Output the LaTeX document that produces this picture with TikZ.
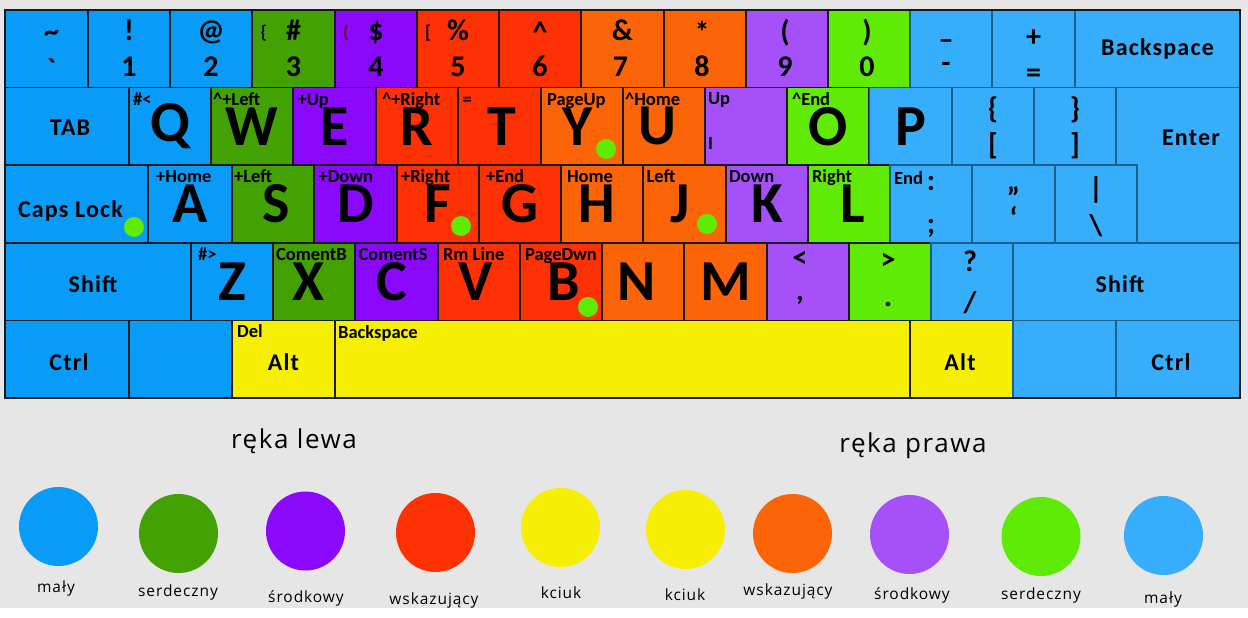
\documentclass[tikz,border=0pt]{standalone}
\usepackage{fontspec}
\setmainfont{Carlito}
\newfontfamily\legendfam{Open Sans}[LetterSpace=6]
\definecolor{paper}{HTML}{E6E6E6}
\definecolor{lpinky}{HTML}{089CF8}
\definecolor{lring}{HTML}{44A104}
\definecolor{lmiddle}{HTML}{8A08FB}
\definecolor{lindex}{HTML}{FE3104}
\definecolor{thumb}{HTML}{F6EF03}
\definecolor{rindex}{HTML}{FB6508}
\definecolor{rmiddle}{HTML}{A550F8}
\definecolor{rring}{HTML}{5FEB06}
\definecolor{rpinky}{HTML}{36AEFB}
\definecolor{keyline}{HTML}{1A1A1A}
\definecolor{rblueline}{HTML}{1F5F8B}
\definecolor{hintred}{HTML}{7A0A14}
\newcommand{\kbletter}{\fontsize{58}{58}\selectfont\bfseries}
\newcommand{\kbsym}{\fontsize{30}{30}\selectfont\bfseries}
\newcommand{\kbhint}{\fontsize{18.5}{18.5}\selectfont\bfseries}
\newcommand{\kbmod}{\fontsize{24}{24}\selectfont\bfseries\addfontfeature{LetterSpace=5}}
\newcommand{\kbnudge}[2]{\hspace*{#1}#2}

\begin{document}
\begin{tikzpicture}[x=1pt,y=-1pt,
  key/.style={draw=keyline,line width=1.5pt,minimum height=77.6pt,minimum width=82.3pt,
    inner sep=0pt,outer sep=0pt,font=\kbletter},
  lpk/.style={key,fill=lpinky},
  lrg/.style={key,fill=lring},
  lmd/.style={key,fill=lmiddle},
  lix/.style={key,fill=lindex},
  thb/.style={key,fill=thumb},
  rix/.style={key,fill=rindex},
  rmd/.style={key,fill=rmiddle},
  rrg/.style={key,fill=rring},
  rpk/.style={key,fill=rpinky,draw=rblueline},
  sym/.style={anchor=base,inner sep=0pt,font=\kbsym},
  hint/.style={anchor=base west,inner sep=0pt,font=\kbhint},
  modl/.style={inner sep=0pt,font=\kbmod},
  hotdot/.style={circle,fill=rring,minimum size=20pt,inner sep=0pt},
  finger/.style={circle,minimum size=79pt,inner sep=0pt},
  fname/.style={inner sep=0pt,font=\legendfam\fontsize{15.5}{15.5}\selectfont},
  hand/.style={inner sep=0pt,font=\legendfam\fontsize{26}{26}\selectfont}
]
  \useasboundingbox (0,0) rectangle (1248,618);
  \fill[paper] (0,0) rectangle (1248,608);
  \fill[white] (0,608) rectangle (1248,618);

  % Number row
  \node[lpk,minimum width=83pt] (ktilde) at (46.5,48.8) {};
  \node[lpk] (k1) at (129,48.8) {};
  \node[lpk] (k2) at (211,48.8) {};
  \node[lrg] (k3) at (293.5,48.8) {};
  \node[lmd] (k4) at (376,48.8) {};
  \node[lix] (k5) at (458,48.8) {};
  \node[lix] (k6) at (540,48.8) {};
  \node[rix] (k7) at (622.5,48.8) {};
  \node[rix] (k8) at (705,48.8) {};
  \node[rmd] (k9) at (787,48.8) {};
  \node[rrg] (k0) at (869,48.8) {};
  \node[rpk] (kminus) at (951,48.8) {};
  \node[rpk] (kplus) at (1033.5,48.8) {};
  \node[rpk,minimum width=165pt] (kbksp) at (1157.5,48.8) {};

  \node[sym] (ktilde-t) at ([xshift=5pt,yshift=-32pt]ktilde.north) {\textasciitilde};
  \node[sym] (ktilde-b) at ([xshift=5pt,yshift=-70pt]ktilde.north) {\textasciigrave};
  \node[sym] (k1-t) at ([yshift=-31pt]k1.north) {!};
  \node[sym] (k1-b) at ([yshift=-67pt]k1.north) {1};
  \node[sym] (k2-t) at ([yshift=-31pt]k2.north) {@};
  \node[sym] (k2-b) at ([yshift=-67pt]k2.north) {2};
  \node[sym] (k3-t) at ([yshift=-31pt]k3.north) {\#};
  \node[sym] (k3-b) at ([yshift=-67pt]k3.north) {3};
  \node[sym] (k4-t) at ([yshift=-31pt]k4.north) {\$};
  \node[sym] (k4-b) at ([yshift=-67pt]k4.north) {4};
  \node[sym] (k5-t) at ([yshift=-31pt]k5.north) {\%};
  \node[sym] (k5-b) at ([yshift=-67pt]k5.north) {5};
  \node[sym] (k6-t) at ([yshift=-33pt]k6.north) {\textasciicircum};
  \node[sym] (k6-b) at ([yshift=-67pt]k6.north) {6};
  \node[sym] (k7-t) at ([yshift=-31pt]k7.north) {\&};
  \node[sym] (k7-b) at ([xshift=-2pt,yshift=-67pt]k7.north) {7};
  \node[sym] (k8-t) at ([xshift=-3pt,yshift=-33pt]k8.north) {*};
  \node[sym] (k8-b) at ([xshift=-3pt,yshift=-67pt]k8.north) {8};
  \node[sym] (k9-t) at ([xshift=-2pt,yshift=-32pt]k9.north) {(};
  \node[sym] (k9-b) at ([xshift=-2pt,yshift=-67pt]k9.north) {9};
  \node[sym] (k0-t) at ([xshift=-2pt,yshift=-32pt]k0.north) {)};
  \node[sym] (k0-b) at ([xshift=-2pt,yshift=-67pt]k0.north) {0};
  \node[sym] (kminus-t) at ([xshift=-5pt,yshift=-40pt]kminus.north) {–};
  \node[sym] (kminus-b) at ([xshift=-5pt,yshift=-63pt]kminus.north) {-};
  \node[sym] (kplus-t) at ([yshift=-37pt]kplus.north) {+};
  \node[sym] (kplus-b) at ([yshift=-72pt]kplus.north) {=};
  \node[modl] (tbksp) at (kbksp.center) {Backspace};
  \node[hint] (k3-h) at ([xshift=8pt,yshift=-29pt]k3.north west) {\{};
  \node[hint,hintred] (k4-h) at ([xshift=8pt,yshift=-29pt]k4.north west) {(};
  \node[hint] (k5-h) at ([xshift=8pt,yshift=-29pt]k5.north west) {[};

  % Top letter row
  \node[lpk,minimum width=124pt] (ktab) at (67,126.4) {};
  \node[lpk] (kq) at (170,126.4) {Q};
  \node[lrg] (kw) at (252,126.4) {W};
  \node[lmd] (ke) at (334.5,126.4) {E};
  \node[lix] (kr) at (417,126.4) {R};
  \node[lix] (kt) at (499.5,126.4) {\kbnudge{4pt}{T}};
  \node[rix] (ky) at (582,126.4) {\kbnudge{-8pt}{Y}};
  \node[rix] (ku) at (664,126.4) {\kbnudge{-14pt}{U}};
  \node[rmd] (ki) at (746,126.4) {};
  \node[rrg] (ko) at (828,126.4) {O};
  \node[rpk] (kp) at (910.5,126.4) {P};
  \node[rpk] (klbr) at (993,126.4) {};
  \node[rpk] (krbr) at (1075,126.4) {};
  \filldraw[fill=rpinky,draw=rblueline,line width=1.5pt] (1116,87.6) -- (1240,87.6)
    -- (1240,242.8) -- (1137,242.8) -- (1137,165.2) -- (1116,165.2) -- cycle;

  \node[modl] (ttab) at ([xshift=3pt,yshift=-1.6pt]ktab.center) {TAB};
  \node[hint] (kq-h) at ([xshift=4pt,yshift=-18pt]kq.north west) {\#<};
  \node[hint] (kw-h) at ([xshift=2pt,yshift=-18pt]kw.north west) {\textasciicircum+Left};
  \node[hint] (ke-h) at ([xshift=4pt,yshift=-18pt]ke.north west) {+Up};
  \node[hint] (kr-h) at ([xshift=6pt,yshift=-18pt]kr.north west) {\textasciicircum+Right};
  \node[hint] (kt-h) at ([xshift=4pt,yshift=-18pt]kt.north west) {=};
  \node[hint] (ky-h) at ([xshift=6pt,yshift=-18pt]ky.north west) {PageUp};
  \node[hint] (ku-h) at ([xshift=2pt,yshift=-18pt]ku.north west) {\textasciicircum Home};
  \node[hint] (ki-h) at ([xshift=3pt,yshift=-17pt]ki.north west) {Up};
  \node[hint] (ki-l) at ([xshift=3pt,yshift=-62pt]ki.north west) {I};
  \node[hint] (ko-h) at ([xshift=5pt,yshift=-18pt]ko.north west) {\textasciicircum End};
  \node[sym] (klbr-t) at ([yshift=-31pt]klbr.north) {\{};
  \node[sym] (klbr-b) at ([yshift=-67pt]klbr.north) {[};
  \node[sym] (krbr-t) at ([yshift=-31pt]krbr.north) {\}};
  \node[sym] (krbr-b) at ([yshift=-67pt]krbr.north) {]};
  \node[modl] (tenter) at (1191,138) {Enter};

  % Home row
  \node[lpk,minimum width=143pt] (kcaps) at (76.5,204) {};
  \node[lpk,minimum width=84pt] (ka) at (190,204) {A};
  \node[lrg] (ks) at (273,204) {\kbnudge{6pt}{S}};
  \node[lmd] (kd) at (355.5,204) {D};
  \node[lix] (kf) at (438,204) {F};
  \node[lix] (kg) at (520,204) {G};
  \node[rix] (kh) at (602,204) {\kbnudge{-10pt}{H}};
  \node[rix] (kj) at (684.5,204) {\kbnudge{-8pt}{J}};
  \node[rmd] (kk) at (767,204) {K};
  \node[rrg] (kl) at (849,204) {\kbnudge{8pt}{L}};
  \node[rpk] (ksemi) at (931,204) {};
  \node[rpk] (kquote) at (1013.5,204) {};
  \node[rpk] (kbslash) at (1096,204) {};

  \node[modl] (tcaps) at ([xshift=-6pt,yshift=-7pt]kcaps.center) {Caps Lock};
  \node[hint] (ka-h) at ([xshift=8pt,yshift=-17pt]ka.north west) {+Home};
  \node[hint] (ks-h) at ([xshift=2pt,yshift=-17pt]ks.north west) {+Left};
  \node[hint] (kd-h) at ([xshift=4pt,yshift=-17pt]kd.north west) {+Down};
  \node[hint] (kf-h) at ([xshift=4pt,yshift=-17pt]kf.north west) {+Right};
  \node[hint] (kg-h) at ([xshift=7pt,yshift=-17pt]kg.north west) {+End};
  \node[hint] (kh-h) at ([xshift=6pt,yshift=-17pt]kh.north west) {Home};
  \node[hint] (kj-h) at ([xshift=3pt,yshift=-17pt]kj.north west) {Left};
  \node[hint] (kk-h) at ([xshift=3pt,yshift=-17pt]kk.north west) {Down};
  \node[hint] (kl-h) at ([xshift=4pt,yshift=-17pt]kl.north west) {Right};
  \node[hint] (ksemi-h) at ([xshift=4pt,yshift=-19pt]ksemi.north west) {End};
  \node[sym] (ksemi-t) at ([yshift=-25pt]ksemi.north) {:};
  \node[sym] (ksemi-b) at ([yshift=-68pt]ksemi.north) {;};
  \node[sym] (kquote-t) at ([yshift=-43pt]kquote.north) {”};
  \node[sym] (kquote-b) at ([yshift=-63pt]kquote.north) {‘};
  \node[sym] (kbslash-t) at ([yshift=-33pt]kbslash.north) {\textbar};
  \node[sym] (kbslash-b) at ([yshift=-70pt]kbslash.north) {\textbackslash};

  % Bottom letter row
  \node[lpk,minimum width=186pt] (klshift) at (98,281.6) {};
  \node[lpk] (kz) at (232,281.6) {Z};
  \node[lrg] (kx) at (314,281.6) {\kbnudge{-12pt}{X}};
  \node[lmd] (kc) at (396.5,281.6) {\kbnudge{-10pt}{C}};
  \node[lix] (kv) at (479,281.6) {\kbnudge{-6pt}{V}};
  \node[lix] (kb) at (561,281.6) {\kbnudge{6pt}{B}};
  \node[rix] (kn) at (643,281.6) {\kbnudge{-12pt}{N}};
  \node[rix] (km) at (725.5,281.6) {M};
  \node[rmd] (kcomma) at (808,281.6) {};
  \node[rrg] (kdot) at (890,281.6) {};
  \node[rpk] (kslash) at (972,281.6) {};
  \node[rpk,minimum width=227pt] (krshift) at (1126.5,281.6) {};

  \node[modl] (tlshift) at ([xshift=-5pt,yshift=-3pt]klshift.center) {Shift};
  \node[hint] (kz-h) at ([xshift=7pt,yshift=-18pt]kz.north west) {\#>};
  \node[hint] (kx-h) at ([xshift=3pt,yshift=-18pt]kx.north west) {ComentB};
  \node[hint] (kc-h) at ([xshift=3pt,yshift=-18pt]kc.north west) {ComentS};
  \node[hint] (kv-h) at ([xshift=5pt,yshift=-18pt]kv.north west) {Rm Line};
  \node[hint] (kb-h) at ([xshift=5pt,yshift=-18pt]kb.north west) {PageDwn};
  \node[sym] (kcomma-t) at ([xshift=-8pt,yshift=-25pt]kcomma.north) {<};
  \node[sym] (kcomma-b) at ([xshift=-8pt,yshift=-58pt]kcomma.north) {,};
  \node[sym] (kdot-t) at ([xshift=-2pt,yshift=-27pt]kdot.north) {>};
  \node[sym] (kdot-b) at ([xshift=-2pt,yshift=-64pt]kdot.north) {.};
  \node[sym] (kslash-t) at ([xshift=-2pt,yshift=-29pt]kslash.north) {?};
  \node[sym] (kslash-b) at ([xshift=-2pt,yshift=-70pt]kslash.north) {/};
  \node[modl] (trshift) at ([xshift=-6.5pt,yshift=-3pt]krshift.center) {Shift};

  % Space row
  \node[lpk,minimum width=124pt] (klctrl) at (67,359.2) {};
  \node[lpk,minimum width=103pt] (klwin) at (180.5,359.2) {};
  \node[thb,minimum width=103pt] (klalt) at (283.5,359.2) {};
  \node[thb,minimum width=575pt] (kspace) at (622.5,359.2) {};
  \node[thb,minimum width=103pt] (kralt) at (961.5,359.2) {};
  \node[rpk,minimum width=103pt] (krwin) at (1064.5,359.2) {};
  \node[rpk,minimum width=124pt] (krctrl) at (1178,359.2) {};

  \node[modl] (tlctrl) at ([xshift=2pt,yshift=-3pt]klctrl.center) {Ctrl};
  \node[modl] (tlalt) at ([yshift=-3pt]klalt.center) {Alt};
  \node[hint] (klalt-h) at ([xshift=5pt,yshift=-17pt]klalt.north west) {Del};
  \node[hint] (kspace-h) at ([xshift=3pt,yshift=-18pt]kspace.north west) {Backspace};
  \node[modl] (tralt) at ([xshift=-1.5pt,yshift=-3pt]kralt.center) {Alt};
  \node[modl] (trctrl) at ([xshift=-7pt,yshift=-3pt]krctrl.center) {Ctrl};

  % Home position dots
  \node[hotdot] (dcaps) at (134,227) {};
  \node[hotdot] (df) at (461,226) {};
  \node[hotdot] (dy) at (606,149) {};
  \node[hotdot] (dj) at (707,224) {};
  \node[hotdot] (db) at (588,307) {};

  \draw[keyline,line width=2.5pt] (5,10) rectangle (1240,398);

  % Legend
  \node[hand] (lefthand) at (294,441) {ręka lewa};
  \node[hand] (righthand) at (913,446) {ręka prawa};

  \node[finger,fill=lpinky] (f1) at (58.5,526.5) {};
  \node[finger,fill=lring] (f2) at (178.5,533.5) {};
  \node[finger,fill=lmiddle] (f3) at (305.5,531) {};
  \node[finger,fill=lindex] (f4) at (435.5,532.5) {};
  \node[finger,fill=thumb] (f5) at (560.5,527.5) {};
  \node[finger,fill=thumb] (f6) at (685.5,529.5) {};
  \node[finger,fill=rindex] (f7) at (792.5,533.5) {};
  \node[finger,fill=rmiddle] (f8) at (909.5,534.5) {};
  \node[finger,fill=rring] (f9) at (1041,536.5) {};
  \node[finger,fill=rpinky] (f10) at (1163.5,535.5) {};

  \node[fname] (f1-n) at (56,588) {mały};
  \node[fname] (f2-n) at (178,592) {serdeczny};
  \node[fname] (f3-n) at (306,598) {środkowy};
  \node[fname] (f4-n) at (434,600) {wskazujący};
  \node[fname] (f5-n) at (561,593) {kciuk};
  \node[fname] (f6-n) at (685,595) {kciuk};
  \node[fname] (f7-n) at (788,591) {wskazujący};
  \node[fname] (f8-n) at (912,595) {środkowy};
  \node[fname] (f9-n) at (1041,595) {serdeczny};
  \node[fname] (f10-n) at (1163,599) {mały};
\end{tikzpicture}
\end{document}
